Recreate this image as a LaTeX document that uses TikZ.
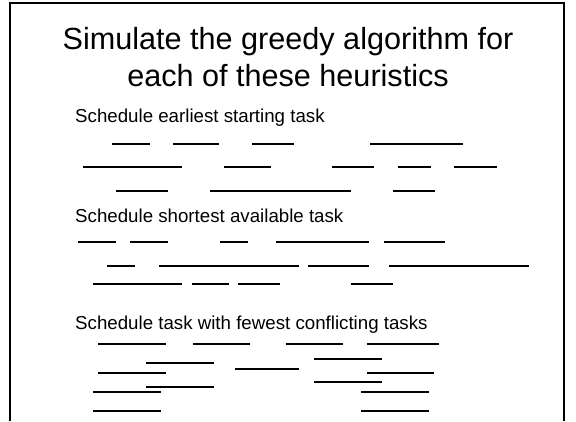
\documentclass[tikz,border=0pt]{standalone}
\usepackage{fontspec}
\setmainfont{Liberation Sans}
\usepackage{tikz}

\begin{document}
\begin{tikzpicture}[
  x=1pt,y=-1pt,
  frame/.style={line width=2.6pt},
  task/.style={line width=2pt},
  ttl/.style={font=\fontsize{30.6}{37}\selectfont,anchor=base,inner sep=0pt},
  hdr/.style={font=\fontsize{18.7}{22}\selectfont,anchor=base west,inner sep=0pt}]

  \useasboundingbox (0,0) rectangle (576,421);
  \draw[frame] (10,421) -- (10,3) -- (564,3) -- (564,421);

  \node[ttl] (ttl1) at (288,49) {Simulate the greedy algorithm for};
  \node[ttl] (ttl2) at (288,86) {each of these heuristics};

  \begin{scope}
    \node[hdr] (earliest) at (75,122) {Schedule earliest starting task};
    \foreach \a/\b/\y in {111.7/150/144, 172.7/219.3/144, 252.3/294.3/144, 370/463.3/144,
        83.3/181.7/167, 224/270.7/167, 332.3/374.3/167, 397.7/430.7/167, 454/496.7/167,
        116/167.7/191, 210/350.7/191, 393.3/435.3/191}
      \draw[task] (\a,\y) -- (\b,\y);
  \end{scope}

  \begin{scope}
    \node[hdr] (shortest) at (75,222) {Schedule shortest available task};
    \foreach \a/\b/\y in {78.3/116/242, 130/167.7/242, 220/247.7/242, 276/369.3/242, 384/445/242,
        106.7/135/266, 159/299/266, 308.3/369.3/266, 389/529.3/266,
        92.7/181.7/284, 191.7/229/284, 238.3/280/284, 350.7/392.7/284}
      \draw[task] (\a,\y) -- (\b,\y);
  \end{scope}

  \begin{scope}
    \node[hdr] (fewest) at (75,329) {Schedule task with fewest conflicting tasks};
    \foreach \a/\b/\y in {98.3/166/344, 192.7/250.3/344, 285.7/343/344, 366.7/439.3/344,
        314/382/359, 145.7/213.7/363, 235.3/299/369,
        98.3/166/373, 366.7/434.3/373,
        314/382/382, 145.7/213.7/387,
        93.3/161/392, 361.3/429.3/392,
        93.3/161/411, 361.3/429.3/411}
      \draw[task] (\a,\y) -- (\b,\y);
  \end{scope}
\end{tikzpicture}
\end{document}
